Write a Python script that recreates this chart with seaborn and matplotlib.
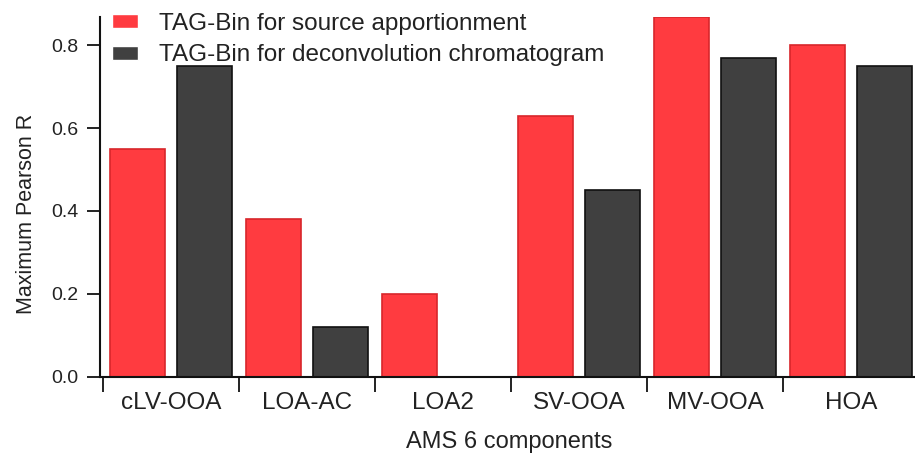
import matplotlib
matplotlib.use("Agg")
import matplotlib.pyplot as plt
import seaborn as sns
import pandas as pd
import numpy as np

categories = ["cLV-OOA", "LOA-AC", "LOA2", "SV-OOA", "MV-OOA", "HOA"]
series_names = ["TAG-Bin for source apportionment", "TAG-Bin for deconvolution chromatogram"]
source_apportionment = [0.55, 0.38, 0.20, 0.63, 0.87, 0.80]
deconvolution_chromatogram = [0.75, 0.12, 0.0, 0.45, 0.77, 0.75]
y_ticks = [0.0, 0.2, 0.4, 0.6, 0.8]
y_tick_labels = ["0.0", "0.2", "0.4", "0.6", "0.8"]

df = pd.DataFrame({
    "component": categories * 2,
    "series": [series_names[0]] * len(categories) + [series_names[1]] * len(categories),
    "value": source_apportionment + deconvolution_chromatogram,
})

sns.set_style("ticks")
plt.rcParams["font.family"] = ["Liberation Sans", "DejaVu Sans"]

W, H = 915, 457
fig = plt.figure(figsize=(W / 100, H / 100), dpi=100)
left_px, right_px = 99.6, 919.0
top_px, bot_px = 16.5, 376.5
ax = fig.add_axes([left_px / W, 1 - bot_px / H, (right_px - left_px) / W, (bot_px - top_px) / H])

sns.barplot(
    data=df, x="component", y="value", hue="series",
    order=categories, hue_order=series_names,
    palette=["#FF3B40", "#404040"], saturation=1,
    width=0.98, gap=0.18, ax=ax, errorbar=None,
)

n = len(categories)
for i, bar in enumerate(ax.patches[: 2 * n]):
    if i < n:
        bar.set_edgecolor("#D8262B")
    else:
        bar.set_edgecolor("#111111")
    bar.set_linewidth(1.2)

ax.set_xlim(-0.525, 5.5)
ax.set_ylim(0, 0.87)

for s in ["top", "right"]:
    ax.spines[s].set_visible(False)
for s in ["left", "bottom"]:
    ax.spines[s].set_linewidth(1.5)
    ax.spines[s].set_color("#111111")

ax.set_yticks(y_ticks)
ax.set_yticklabels(y_tick_labels)
ax.tick_params(axis="y", direction="out", length=9.5, width=1.3, pad=6,
               labelsize=14, colors="#111111", labelcolor="#222222")

ax.set_xticks(np.arange(-0.5, len(categories), 1.0))
ax.set_xticklabels([""] * (len(categories) + 1))
ax.set_xticks(np.arange(len(categories)), minor=True)
ax.set_xticklabels(categories, minor=True)
ax.tick_params(axis="x", which="major", direction="out", length=11, width=1.3, colors="#111111")
ax.tick_params(axis="x", which="minor", length=0, pad=11, labelsize=17.5, labelcolor="#222222")

ax.set_xlabel("AMS 6 components", fontsize=17, color="#222222", va="center")
ax.xaxis.set_label_coords(0.5, (bot_px - 442) / (bot_px - top_px))
ax.set_ylabel("Maximum Pearson R", fontsize=15.5, color="#222222", va="center")
ax.yaxis.set_label_coords((27 - left_px) / (right_px - left_px), (bot_px - 214) / (bot_px - top_px))

handles, labels = ax.get_legend_handles_labels()
old = ax.get_legend()
if old is not None:
    old.remove()
leg = ax.legend(
    handles, labels, loc="upper left",
    bbox_to_anchor=(112 / W, 1 - 13 / H), bbox_transform=fig.transFigure,
    frameon=False, fontsize=17.5, borderpad=0, borderaxespad=0,
    handlelength=1.05, handleheight=0.5, handletextpad=0.9, labelspacing=0.38,
)
for t in leg.get_texts():
    t.set_color("#222222")

fig.savefig("out.png", dpi=100)
